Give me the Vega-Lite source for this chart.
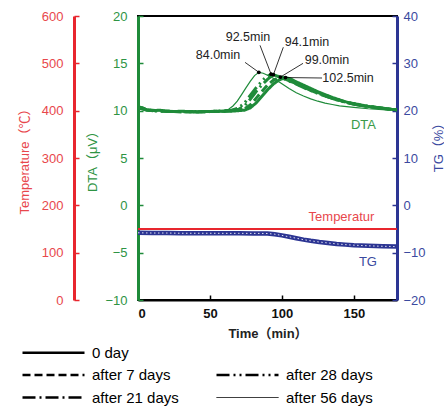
{
  "$schema": "https://vega.github.io/schema/vega-lite/v6.json",
  "autosize": {"type": "none"},
  "width": 259,
  "height": 284,
  "padding": {"left": 138, "top": 16, "right": 47, "bottom": 109},
  "config": {
    "view": {"stroke": "black", "strokeWidth": 2},
    "font": "Liberation Sans, Noto Sans CJK JP",
    "axis": {"grid": false, "labelFontSize": 13, "titleFontSize": 13, "titleFontWeight": "normal", "tickWidth": 1.5}
  },
  "datasets": {
    "temp": [{"t": 0, "temp": 150}, {"t": 180, "temp": 150}],
    "dta": [
      {"s": "0 day", "t": 0, "v": 10.4}, {"s": "0 day", "t": 3, "v": 10.3}, {"s": "0 day", "t": 6, "v": 10.1}, {"s": "0 day", "t": 10, "v": 10.0}, {"s": "0 day", "t": 15, "v": 10.05}, {"s": "0 day", "t": 20, "v": 9.95}, {"s": "0 day", "t": 25, "v": 9.9}, {"s": "0 day", "t": 30, "v": 9.95}, {"s": "0 day", "t": 35, "v": 9.9}, {"s": "0 day", "t": 40, "v": 9.85}, {"s": "0 day", "t": 45, "v": 9.9}, {"s": "0 day", "t": 50, "v": 9.9}, {"s": "0 day", "t": 55, "v": 9.95}, {"s": "0 day", "t": 60, "v": 9.95}, {"s": "0 day", "t": 65, "v": 9.95}, {"s": "0 day", "t": 70, "v": 10.0}, {"s": "0 day", "t": 74, "v": 10.05}, {"s": "0 day", "t": 78, "v": 10.3}, {"s": "0 day", "t": 82, "v": 10.8}, {"s": "0 day", "t": 86, "v": 11.5}, {"s": "0 day", "t": 90, "v": 12.2}, {"s": "0 day", "t": 94, "v": 12.8}, {"s": "0 day", "t": 98, "v": 13.25}, {"s": "0 day", "t": 102.5, "v": 13.5}, {"s": "0 day", "t": 106, "v": 13.35}, {"s": "0 day", "t": 110, "v": 13.05}, {"s": "0 day", "t": 115, "v": 12.7}, {"s": "0 day", "t": 120, "v": 12.35}, {"s": "0 day", "t": 125, "v": 12.0}, {"s": "0 day", "t": 130, "v": 11.7}, {"s": "0 day", "t": 135, "v": 11.4}, {"s": "0 day", "t": 140, "v": 11.15}, {"s": "0 day", "t": 145, "v": 10.9}, {"s": "0 day", "t": 150, "v": 10.75}, {"s": "0 day", "t": 155, "v": 10.6}, {"s": "0 day", "t": 160, "v": 10.45}, {"s": "0 day", "t": 165, "v": 10.35}, {"s": "0 day", "t": 170, "v": 10.25}, {"s": "0 day", "t": 175, "v": 10.15}, {"s": "0 day", "t": 180, "v": 10.1},
      {"s": "after 7 days", "t": 0, "v": 10.2}, {"s": "after 7 days", "t": 3, "v": 10.3}, {"s": "after 7 days", "t": 6, "v": 10.1}, {"s": "after 7 days", "t": 10, "v": 10.05}, {"s": "after 7 days", "t": 15, "v": 9.95}, {"s": "after 7 days", "t": 20, "v": 9.95}, {"s": "after 7 days", "t": 25, "v": 9.9}, {"s": "after 7 days", "t": 30, "v": 9.85}, {"s": "after 7 days", "t": 35, "v": 9.9}, {"s": "after 7 days", "t": 40, "v": 9.9}, {"s": "after 7 days", "t": 45, "v": 9.85}, {"s": "after 7 days", "t": 50, "v": 9.9}, {"s": "after 7 days", "t": 55, "v": 9.95}, {"s": "after 7 days", "t": 60, "v": 9.95}, {"s": "after 7 days", "t": 65, "v": 10.0}, {"s": "after 7 days", "t": 70, "v": 10.05}, {"s": "after 7 days", "t": 74, "v": 10.2}, {"s": "after 7 days", "t": 78, "v": 10.6}, {"s": "after 7 days", "t": 82, "v": 11.3}, {"s": "after 7 days", "t": 86, "v": 12.0}, {"s": "after 7 days", "t": 90, "v": 12.7}, {"s": "after 7 days", "t": 94, "v": 13.2}, {"s": "after 7 days", "t": 99, "v": 13.55}, {"s": "after 7 days", "t": 103, "v": 13.4}, {"s": "after 7 days", "t": 107, "v": 13.15}, {"s": "after 7 days", "t": 112, "v": 12.8}, {"s": "after 7 days", "t": 117, "v": 12.45}, {"s": "after 7 days", "t": 122, "v": 12.1}, {"s": "after 7 days", "t": 127, "v": 11.8}, {"s": "after 7 days", "t": 132, "v": 11.5}, {"s": "after 7 days", "t": 137, "v": 11.25}, {"s": "after 7 days", "t": 142, "v": 11.0}, {"s": "after 7 days", "t": 147, "v": 10.8}, {"s": "after 7 days", "t": 152, "v": 10.65}, {"s": "after 7 days", "t": 157, "v": 10.5}, {"s": "after 7 days", "t": 162, "v": 10.4}, {"s": "after 7 days", "t": 167, "v": 10.3}, {"s": "after 7 days", "t": 172, "v": 10.2}, {"s": "after 7 days", "t": 176, "v": 10.15}, {"s": "after 7 days", "t": 180, "v": 10.1},
      {"s": "after 21 days", "t": 0, "v": 10.3}, {"s": "after 21 days", "t": 3, "v": 10.2}, {"s": "after 21 days", "t": 6, "v": 10.1}, {"s": "after 21 days", "t": 10, "v": 10.0}, {"s": "after 21 days", "t": 15, "v": 10.0}, {"s": "after 21 days", "t": 20, "v": 9.9}, {"s": "after 21 days", "t": 25, "v": 9.9}, {"s": "after 21 days", "t": 30, "v": 9.9}, {"s": "after 21 days", "t": 35, "v": 9.85}, {"s": "after 21 days", "t": 40, "v": 9.9}, {"s": "after 21 days", "t": 45, "v": 9.9}, {"s": "after 21 days", "t": 50, "v": 9.9}, {"s": "after 21 days", "t": 55, "v": 9.9}, {"s": "after 21 days", "t": 60, "v": 9.95}, {"s": "after 21 days", "t": 65, "v": 10.0}, {"s": "after 21 days", "t": 70, "v": 10.15}, {"s": "after 21 days", "t": 74, "v": 10.5}, {"s": "after 21 days", "t": 78, "v": 11.2}, {"s": "after 21 days", "t": 82, "v": 12.0}, {"s": "after 21 days", "t": 86, "v": 12.7}, {"s": "after 21 days", "t": 90, "v": 13.3}, {"s": "after 21 days", "t": 94.1, "v": 13.8}, {"s": "after 21 days", "t": 98, "v": 13.6}, {"s": "after 21 days", "t": 102, "v": 13.35}, {"s": "after 21 days", "t": 106, "v": 13.1}, {"s": "after 21 days", "t": 110, "v": 12.85}, {"s": "after 21 days", "t": 115, "v": 12.5}, {"s": "after 21 days", "t": 120, "v": 12.15}, {"s": "after 21 days", "t": 125, "v": 11.85}, {"s": "after 21 days", "t": 130, "v": 11.55}, {"s": "after 21 days", "t": 135, "v": 11.3}, {"s": "after 21 days", "t": 140, "v": 11.05}, {"s": "after 21 days", "t": 145, "v": 10.85}, {"s": "after 21 days", "t": 150, "v": 10.7}, {"s": "after 21 days", "t": 155, "v": 10.55}, {"s": "after 21 days", "t": 160, "v": 10.45}, {"s": "after 21 days", "t": 165, "v": 10.35}, {"s": "after 21 days", "t": 170, "v": 10.25}, {"s": "after 21 days", "t": 175, "v": 10.15}, {"s": "after 21 days", "t": 180, "v": 10.1},
      {"s": "after 28 days", "t": 0, "v": 10.3}, {"s": "after 28 days", "t": 3, "v": 10.2}, {"s": "after 28 days", "t": 6, "v": 10.05}, {"s": "after 28 days", "t": 10, "v": 10.0}, {"s": "after 28 days", "t": 15, "v": 9.95}, {"s": "after 28 days", "t": 20, "v": 9.95}, {"s": "after 28 days", "t": 25, "v": 9.9}, {"s": "after 28 days", "t": 30, "v": 9.9}, {"s": "after 28 days", "t": 35, "v": 9.9}, {"s": "after 28 days", "t": 40, "v": 9.85}, {"s": "after 28 days", "t": 45, "v": 9.9}, {"s": "after 28 days", "t": 50, "v": 9.9}, {"s": "after 28 days", "t": 55, "v": 9.95}, {"s": "after 28 days", "t": 60, "v": 10.0}, {"s": "after 28 days", "t": 65, "v": 10.05}, {"s": "after 28 days", "t": 70, "v": 10.3}, {"s": "after 28 days", "t": 74, "v": 10.8}, {"s": "after 28 days", "t": 78, "v": 11.6}, {"s": "after 28 days", "t": 82, "v": 12.4}, {"s": "after 28 days", "t": 86, "v": 13.1}, {"s": "after 28 days", "t": 89, "v": 13.55}, {"s": "after 28 days", "t": 92.5, "v": 13.85}, {"s": "after 28 days", "t": 96, "v": 13.7}, {"s": "after 28 days", "t": 100, "v": 13.45}, {"s": "after 28 days", "t": 104, "v": 13.2}, {"s": "after 28 days", "t": 108, "v": 12.95}, {"s": "after 28 days", "t": 113, "v": 12.6}, {"s": "after 28 days", "t": 118, "v": 12.25}, {"s": "after 28 days", "t": 123, "v": 11.95}, {"s": "after 28 days", "t": 128, "v": 11.65}, {"s": "after 28 days", "t": 133, "v": 11.4}, {"s": "after 28 days", "t": 138, "v": 11.15}, {"s": "after 28 days", "t": 143, "v": 10.95}, {"s": "after 28 days", "t": 148, "v": 10.75}, {"s": "after 28 days", "t": 153, "v": 10.6}, {"s": "after 28 days", "t": 158, "v": 10.5}, {"s": "after 28 days", "t": 163, "v": 10.4}, {"s": "after 28 days", "t": 168, "v": 10.3}, {"s": "after 28 days", "t": 173, "v": 10.2}, {"s": "after 28 days", "t": 180, "v": 10.1},
      {"s": "after 56 days", "t": 0, "v": 10.2}, {"s": "after 56 days", "t": 5, "v": 10.1}, {"s": "after 56 days", "t": 10, "v": 10.0}, {"s": "after 56 days", "t": 20, "v": 9.95}, {"s": "after 56 days", "t": 30, "v": 9.9}, {"s": "after 56 days", "t": 40, "v": 9.9}, {"s": "after 56 days", "t": 50, "v": 9.9}, {"s": "after 56 days", "t": 55, "v": 9.95}, {"s": "after 56 days", "t": 60, "v": 10.0}, {"s": "after 56 days", "t": 63, "v": 10.15}, {"s": "after 56 days", "t": 66, "v": 10.5}, {"s": "after 56 days", "t": 69, "v": 11.0}, {"s": "after 56 days", "t": 72, "v": 11.7}, {"s": "after 56 days", "t": 75, "v": 12.4}, {"s": "after 56 days", "t": 78, "v": 13.1}, {"s": "after 56 days", "t": 81, "v": 13.7}, {"s": "after 56 days", "t": 84, "v": 14.05}, {"s": "after 56 days", "t": 87, "v": 13.95}, {"s": "after 56 days", "t": 90, "v": 13.75}, {"s": "after 56 days", "t": 95, "v": 13.35}, {"s": "after 56 days", "t": 100, "v": 12.85}, {"s": "after 56 days", "t": 105, "v": 12.35}, {"s": "after 56 days", "t": 110, "v": 11.9}, {"s": "after 56 days", "t": 115, "v": 11.55}, {"s": "after 56 days", "t": 120, "v": 11.25}, {"s": "after 56 days", "t": 125, "v": 11.0}, {"s": "after 56 days", "t": 130, "v": 10.8}, {"s": "after 56 days", "t": 135, "v": 10.65}, {"s": "after 56 days", "t": 140, "v": 10.5}, {"s": "after 56 days", "t": 150, "v": 10.35}, {"s": "after 56 days", "t": 160, "v": 10.2}, {"s": "after 56 days", "t": 170, "v": 10.1}, {"s": "after 56 days", "t": 180, "v": 10.05}
    ],
    "tg": [
      {"t": 0, "g": -5.8}, {"t": 10, "g": -5.85}, {"t": 20, "g": -5.85}, {"t": 30, "g": -5.9}, {"t": 40, "g": -5.9}, {"t": 50, "g": -5.9}, {"t": 60, "g": -5.92}, {"t": 70, "g": -5.92}, {"t": 80, "g": -5.93}, {"t": 90, "g": -5.95}, {"t": 95, "g": -6.1}, {"t": 100, "g": -6.35}, {"t": 105, "g": -6.65}, {"t": 110, "g": -6.95}, {"t": 115, "g": -7.25}, {"t": 120, "g": -7.5}, {"t": 126, "g": -7.75}, {"t": 132, "g": -7.95}, {"t": 138, "g": -8.15}, {"t": 144, "g": -8.3}, {"t": 150, "g": -8.42}, {"t": 160, "g": -8.55}, {"t": 170, "g": -8.65}, {"t": 180, "g": -8.72}
    ],
    "ann": [
      {"label": "84.0min", "tp": 84.0, "vp": 14.05, "tl": 55.6, "vl": 15.9, "t1": 74.4, "v1": 15.1},
      {"label": "92.5min", "tp": 92.5, "vp": 13.85, "tl": 76.4, "vl": 17.8, "t1": 84.8, "v1": 16.9},
      {"label": "94.1min", "tp": 94.1, "vp": 13.8, "tl": 117.4, "vl": 17.25, "t1": 101.0, "v1": 16.7},
      {"label": "99.0min", "tp": 99.0, "vp": 13.55, "tl": 131.3, "vl": 15.35, "t1": 114.7, "v1": 15.0},
      {"label": "102.5min", "tp": 102.5, "vp": 13.5, "tl": 146.0, "vl": 13.45, "t1": 127.9, "v1": 13.45}
    ],
    "names": [
      {"name": "DTA", "t": 156.7, "v": 8.5},
      {"name": "Temperatur", "t": 141.4, "v": -1.23},
      {"name": "TG", "t": 159.8, "v": -6.0}
    ]
  },
  "layer": [
    {
      "data": {"name": "temp"},
      "mark": {"type": "line", "color": "#e8262e", "strokeWidth": 2},
      "encoding": {
        "x": {"field": "t", "type": "quantitative", "scale": {"domain": [0, 180], "nice": false},
          "axis": {"values": [0, 50, 100, 150], "title": "Time（min）", "domainColor": "black", "domainWidth": 2, "tickColor": "black", "tickSize": -5, "labelColor": "#111111", "labelFontWeight": "bold", "titleColor": "#222222", "titleFontWeight": "bold", "labelPadding": 12, "titleX": 129.5, "titleY": 33, "titleBaseline": "middle"}},
        "y": {"field": "temp", "type": "quantitative", "scale": {"domain": [0, 600], "nice": false},
          "axis": {"orient": "left", "offset": 64, "values": [0, 100, 200, 300, 400, 500, 600], "title": "Temperature（℃）", "domainColor": "#e8262e", "domainWidth": 3, "tickColor": "#e8262e", "tickSize": -5, "labelColor": "#e8474c", "titleColor": "#e8474c", "labelPadding": 16, "titleX": -50, "titleY": 142, "titleAngle": 270, "titleBaseline": "middle", "titleAlign": "center"}}
      }
    },
    {
      "data": {"name": "dta"},
      "transform": [{"filter": "datum.s !== 'after 56 days'"}],
      "mark": {"type": "line", "color": "#1f8b3a", "strokeWidth": 3},
      "encoding": {
        "x": {"field": "t", "type": "quantitative", "scale": {"domain": [0, 180], "nice": false}},
        "y": {"field": "v", "type": "quantitative", "scale": {"domain": [-10, 20], "nice": false},
          "axis": {"orient": "left", "values": [-10, -5, 0, 5, 10, 15, 20], "title": "DTA（μV）", "domainColor": "#1f8b3a", "domainWidth": 3, "tickColor": "#1f8b3a", "tickSize": -5, "labelColor": "#2e9444", "titleColor": "#2e9444", "labelPadding": 16, "titleX": -46, "titleY": 142, "titleAngle": 270, "titleBaseline": "middle", "titleAlign": "center"}},
        "strokeDash": {"field": "s", "type": "nominal",
          "scale": {"domain": ["0 day", "after 7 days", "after 21 days", " ", "after 28 days", "after 56 days"], "range": [[1, 0], [8, 4], [13, 4, 2, 4], [1, 0], [13, 4, 2, 4, 2, 4], [1, 0]]},
          "legend": {"orient": "none", "legendX": -121, "legendY": 329, "columns": 2, "title": null, "symbolType": "M-1,0H30", "symbolSize": 16, "symbolStrokeColor": "black", "symbolStrokeWidth": 2.5, "labelOffset": 60, "labelFontSize": 15, "labelColor": "black", "rowPadding": 6.5, "columnPadding": 32, "padding": 0,
            "encode": {"symbols": {"update": {"strokeWidth": {"signal": "datum.value === 'after 56 days' ? 1 : 2.5"}, "opacity": {"signal": "datum.value === ' ' ? 0 : 1"}}}}}}
      }
    },
    {
      "data": {"name": "dta"},
      "transform": [{"filter": "datum.s === 'after 56 days'"}],
      "mark": {"type": "line", "color": "#1f8b3a", "strokeWidth": 1.2},
      "encoding": {
        "x": {"field": "t", "type": "quantitative", "scale": {"domain": [0, 180], "nice": false}},
        "y": {"field": "v", "type": "quantitative", "scale": {"domain": [-10, 20], "nice": false}, "axis": null}
      }
    },
    {
      "data": {"name": "tg"},
      "mark": {"type": "line", "color": "#2c3593", "strokeWidth": 4.5},
      "encoding": {
        "x": {"field": "t", "type": "quantitative", "scale": {"domain": [0, 180], "nice": false}},
        "y": {"field": "g", "type": "quantitative", "scale": {"domain": [-20, 40], "nice": false},
          "axis": {"orient": "right", "values": [-20, -10, 0, 10, 20, 30, 40], "title": "TG（%）", "domainColor": "#2c3593", "domainWidth": 3, "tickColor": "#2c3593", "tickSize": -5, "labelColor": "#3b4aa0", "titleColor": "#3b4aa0", "labelPadding": 11, "titleX": 41, "titleY": 128, "titleAngle": 270, "titleBaseline": "middle", "titleAlign": "center"}}
      }
    },
    {
      "data": {"name": "tg"},
      "mark": {"type": "line", "color": "white", "strokeWidth": 1, "strokeDash": [1.5, 2.5], "opacity": 0.85},
      "encoding": {
        "x": {"field": "t", "type": "quantitative", "scale": {"domain": [0, 180], "nice": false}},
        "y": {"field": "g", "type": "quantitative", "scale": {"domain": [-20, 40], "nice": false}, "axis": null}
      }
    },
    {
      "data": {"name": "ann"},
      "mark": {"type": "rule", "color": "black", "strokeWidth": 0.8},
      "encoding": {
        "x": {"field": "t1", "type": "quantitative", "scale": {"domain": [0, 180], "nice": false}},
        "x2": {"field": "tp"},
        "y": {"field": "v1", "type": "quantitative", "scale": {"domain": [-10, 20], "nice": false}, "axis": null},
        "y2": {"field": "vp"}
      }
    },
    {
      "data": {"name": "ann"},
      "mark": {"type": "point", "filled": true, "color": "black", "size": 14, "opacity": 1},
      "encoding": {
        "x": {"field": "tp", "type": "quantitative", "scale": {"domain": [0, 180], "nice": false}},
        "y": {"field": "vp", "type": "quantitative", "scale": {"domain": [-10, 20], "nice": false}, "axis": null}
      }
    },
    {
      "data": {"name": "ann"},
      "mark": {"type": "text", "color": "#222222", "fontSize": 12.5, "align": "center", "baseline": "middle"},
      "encoding": {
        "x": {"field": "tl", "type": "quantitative", "scale": {"domain": [0, 180], "nice": false}},
        "y": {"field": "vl", "type": "quantitative", "scale": {"domain": [-10, 20], "nice": false}, "axis": null},
        "text": {"field": "label"}
      }
    },
    {
      "data": {"name": "names"},
      "mark": {"type": "text", "fontSize": 13, "align": "center", "baseline": "middle"},
      "encoding": {
        "x": {"field": "t", "type": "quantitative", "scale": {"domain": [0, 180], "nice": false}},
        "y": {"field": "v", "type": "quantitative", "scale": {"domain": [-10, 20], "nice": false}, "axis": null},
        "text": {"field": "name"},
        "color": {"field": "name", "type": "nominal", "scale": {"domain": ["DTA", "Temperatur", "TG"], "range": ["#3a9a48", "#e8474c", "#3b4aa0"]}, "legend": null}
      }
    }
  ],
  "resolve": {"scale": {"y": "independent"}}
}
